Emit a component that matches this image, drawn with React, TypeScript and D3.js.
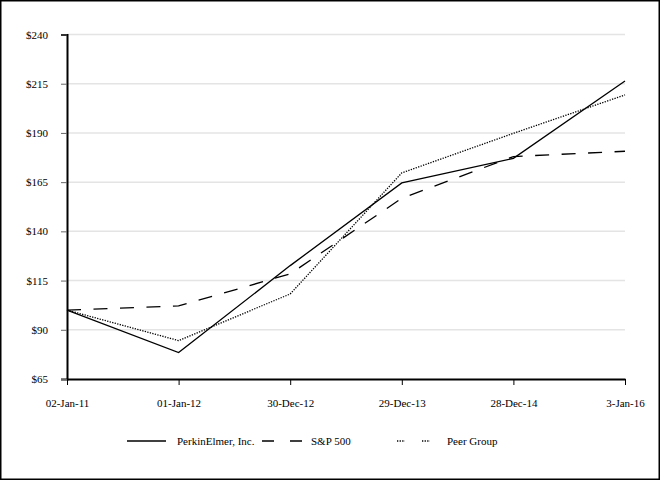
import React, { useRef, useEffect } from "react";
import * as d3 from "d3";

// Values
const dates = ["02-Jan-11", "01-Jan-12", "30-Dec-12", "29-Dec-13", "28-Dec-14", "3-Jan-16"];
const perkinElmer = [100, 78.4, 122.6, 164.6, 177.1, 216.4];
const sp500 = [100, 102.1, 118.4, 156.8, 178.0, 180.7];
const peerGroup = [100, 84.5, 108.2, 169.7, 189.8, 209.3];
const yTicks = [65, 90, 115, 140, 165, 190, 215, 240];

const seriesNames = ["PerkinElmer, Inc.", "S&P 500", "Peer Group"];

const App: React.FC = () => {
  const svgRef = useRef<SVGSVGElement>(null);

  useEffect(() => {
    const width = 660;
    const height = 480;
    const font = "'Liberation Serif', 'Times New Roman', serif";

    const svg = d3
      .select(svgRef.current)
      .attr("width", width)
      .attr("height", height)
      .style("font-family", font)
      .style("font-size", "11px");

    svg.selectAll("*").remove();

    svg
      .append("rect")
      .attr("width", width)
      .attr("height", height)
      .attr("fill", "white");

    const x = d3.scalePoint<string>().domain(dates).range([67, 625]);
    const y = d3.scaleLinear().domain([65, 240]).range([379, 34.5]);

    // Gridlines
    svg
      .append("g")
      .selectAll("line")
      .data(yTicks.slice(1))
      .join("line")
      .attr("x1", 67)
      .attr("x2", 625)
      .attr("y1", (d) => y(d))
      .attr("y2", (d) => y(d))
      .attr("stroke", "#e4e4e4")
      .attr("stroke-width", 1.5);

    // Y axis
    const yAxis = svg
      .append("g")
      .attr("transform", "translate(67,0)")
      .call(
        d3
          .axisLeft(y)
          .tickValues(yTicks)
          .tickSize(6)
          .tickPadding(13)
          .tickFormat((d) => `$${d}`)
      );
    yAxis.select(".domain").attr("stroke", "black").attr("stroke-width", 2);
    yAxis.selectAll(".tick line").attr("stroke", "#666").attr("stroke-width", 1);
    yAxis
      .selectAll("text")
      .attr("fill", "black")
      .style("font-family", font)
      .style("font-size", "11px");

    // X axis
    const xAxis = svg
      .append("g")
      .attr("transform", "translate(0,379)")
      .call(d3.axisBottom(x).tickSize(6).tickPadding(14).tickSizeOuter(0));
    xAxis.select(".domain").attr("stroke", "black").attr("stroke-width", 2);
    xAxis.selectAll(".tick line").attr("stroke", "black").attr("stroke-width", 1);
    xAxis
      .selectAll("text")
      .attr("fill", "black")
      .style("font-family", font)
      .style("font-size", "11px");

    const line = d3
      .line<number>()
      .x((_, i) => x(dates[i]) as number)
      .y((d) => y(d));

    const series = [
      { values: perkinElmer, dash: null as string | null },
      { values: sp500, dash: "14,12.5" },
      { values: peerGroup, dash: "1.3,1.3" },
    ];

    svg
      .append("g")
      .attr("fill", "none")
      .selectAll("path")
      .data(series)
      .join("path")
      .attr("d", (d) => line(d.values))
      .attr("stroke", "black")
      .attr("stroke-width", 1.3)
      .attr("stroke-dasharray", (d) => d.dash);

    // Legend
    const legend = svg.append("g").attr("transform", "translate(0,441)");
    const swatch = (x1: number, x2: number, dash: string | null) =>
      legend
        .append("line")
        .attr("x1", x1)
        .attr("x2", x2)
        .attr("stroke", "black")
        .attr("stroke-width", 1.4)
        .attr("stroke-dasharray", dash);

    swatch(127, 166, null);
    swatch(262, 303, "12,16");
    swatch(397, 405, "1.3,1.3");
    swatch(422, 430, "1.3,1.3");

    legend
      .selectAll("text")
      .data(seriesNames)
      .join("text")
      .attr("x", (_, i) => [177, 311, 447][i])
      .attr("dy", "0.35em")
      .attr("fill", "black")
      .text((d) => d);

    // Outer frame
    svg
      .append("rect")
      .attr("x", 0.75)
      .attr("y", 0.75)
      .attr("width", width - 1.5)
      .attr("height", height - 1.5)
      .attr("fill", "none")
      .attr("stroke", "black")
      .attr("stroke-width", 1.5);
  }, []);

  return (
    <svg
      ref={svgRef}
      style={{ position: "absolute", left: 0, top: 0, display: "block" }}
    ></svg>
  );
};

export default App;
